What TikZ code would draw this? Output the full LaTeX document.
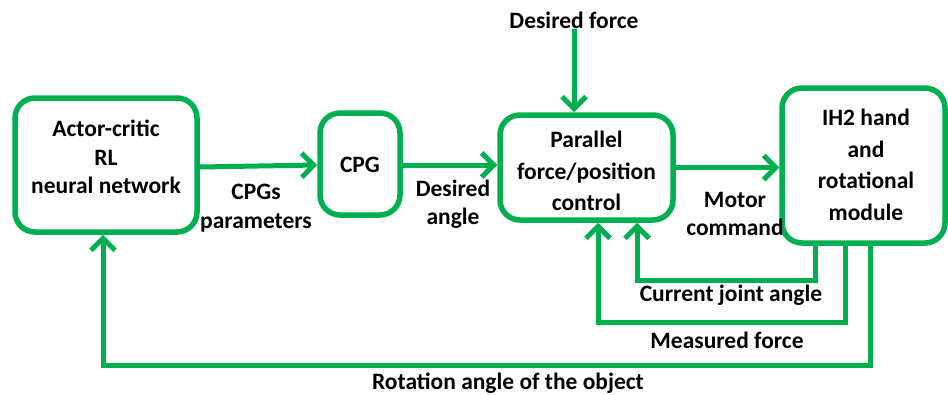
\documentclass[tikz,border=0pt]{standalone}
\usepackage{fontspec}
\setmainfont{Carlito}
\usetikzlibrary{arrows.meta}
\definecolor{lgreen}{RGB}{0,176,80}
\tikzset{
  blk/.style={draw=lgreen, line width=5.5pt, rounded corners=20pt, inner sep=0pt},
  txt/.style={align=center, font=\fontsize{23.5}{28.5}\selectfont\bfseries, inner sep=0pt},
  wtxt/.style={txt, font=\fontsize{23.5}{31.5}\selectfont\bfseries},
  arr/.style={draw=lgreen, line width=5pt, -{Straight Barb[length=12pt,width=24pt]}},
}
\begin{document}
\begin{tikzpicture}[x=1pt,y=-1pt]
\useasboundingbox (0,0) rectangle (948,394);
% blocks
\node[blk, minimum width=182pt, minimum height=134pt] (A) at (106,165) {};
\node[blk, minimum width=80pt, minimum height=102pt] (C) at (360,164) {};
\node[blk, minimum width=173pt, minimum height=105pt] (P) at (586.5,167.5) {};
\node[blk, minimum width=163pt, minimum height=155pt] (H) at (863.5,165.5) {};
% block texts
\node[txt] (At) at (106,157) {Actor-critic\\RL\\neural network};
\node[txt] (Ct) at (360,165) {CPG};
\node[wtxt] (Pt) at (586.5,171) {Parallel\\force/position\\control};
\node[wtxt] (Ht) at (866,165) {IH2 hand\\and\\rotational\\module};
% signal labels
\node[txt] (DF) at (574,20) {Desired force};
\node[txt] (l1) at (256,208) {CPGs\\parameters};
\node[txt] (l2) at (453,204) {Desired\\angle};
\node[txt] (l3) at (735,214) {Motor\\command};
\node[txt] (l4) at (731,295) {Current joint angle};
\node[txt] (l5) at (727,340) {Measured force};
\node[txt] (l6) at (508,383) {Rotation angle of the object};
% forward path
\draw[arr] ([yshift=-2]A.east) -- ([yshift=-1]C.west);
\draw[arr] ([yshift=-1]C.east) -- ([yshift=-1]C.east -| P.west);
\draw[arr] (DF.south) -- (DF.south |- P.north);
\draw[arr] (P.east) -- (P.east -| H.west);
% feedback paths
\draw[arr] ([xshift=-48.5]H.south) -- ++(0,35) -| ([xshift=50.5]P.south);
\draw[arr] ([xshift=-18.5]H.south) -- ++(0,77) -| ([xshift=11.5]P.south);
\draw[arr] ([xshift=6.5]H.south) -- ++(0,120) -| ([xshift=-3]A.south);
\end{tikzpicture}
\end{document}
